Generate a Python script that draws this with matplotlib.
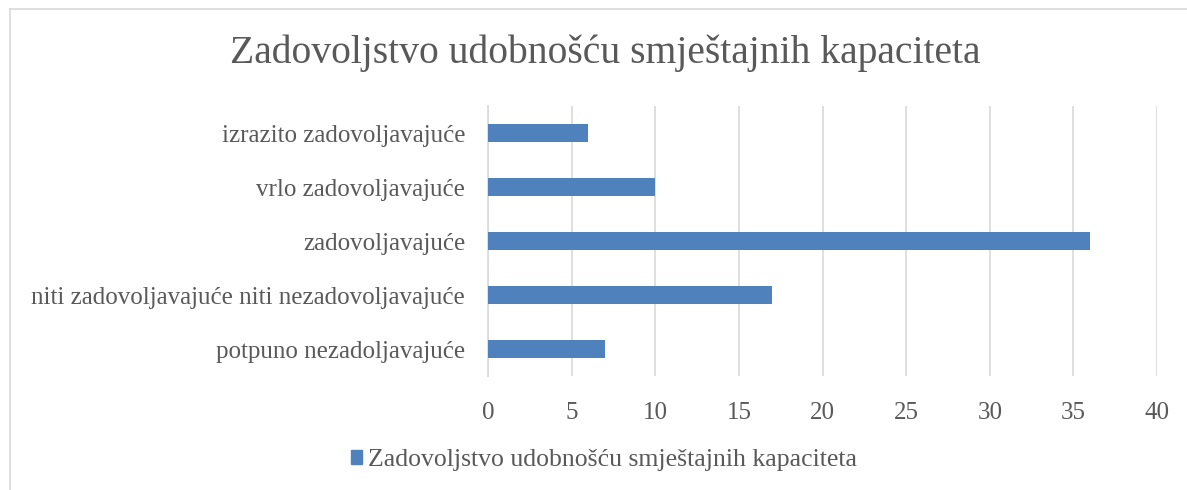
import matplotlib.pyplot as plt
from matplotlib.patches import Patch
from matplotlib.lines import Line2D

categories = ['potpuno nezadoljavajuće',
              'niti zadovoljavajuće niti nezadovoljavajuće',
              'zadovoljavajuće',
              'vrlo zadovoljavajuće',
              'izrazito zadovoljavajuće']
values = [7, 17, 36, 10, 6]
series_name = 'Zadovoljstvo udobnošću smještajnih kapaciteta'
title = 'Zadovoljstvo udobnošću smještajnih kapaciteta'

bar_color = '#4f81bd'
text_color = '#595959'
grid_color = '#d9d9d9'

plt.rcParams['font.family'] = ['Liberation Serif', 'DejaVu Serif']

W, H = 1187, 490
fig = plt.figure(figsize=(W / 100, H / 100), dpi=100)

# chart frame (only top and left edges visible in the crop)
fig.add_artist(Line2D([10 / W, 10 / W], [0, 1 - 9 / H], color='#d9d9d9', lw=1.2))
fig.add_artist(Line2D([10 / W, 1], [1 - 9 / H, 1 - 9 / H], color='#d9d9d9', lw=1.2))

left, right = 488 / W, 1157 / W
top, bottom = 1 - 106 / H, 1 - 376 / H
ax = fig.add_axes([left, bottom, right - left, top - bottom])

y = range(len(categories))
ax.barh(y, values, height=0.35, color=bar_color, zorder=3)
ax.set_ylim(-0.5, len(categories) - 0.5)
ax.set_xlim(0, 40)
ax.set_xticks(range(0, 41, 5))
ax.set_yticks(list(y))
ax.set_yticklabels(categories)

ax.grid(axis='x', color=grid_color, lw=1.2, zorder=0)
for s in ['top', 'right', 'bottom']:
    ax.spines[s].set_visible(False)
ax.spines['left'].set_color(grid_color)
ax.spines['left'].set_linewidth(1.2)
ax.tick_params(axis='both', length=0, labelsize=18, colors=text_color)
ax.tick_params(axis='x', pad=19)
ax.tick_params(axis='y', pad=16.5)

fig.text(605 / W, 1 - 53 / H, title, ha='center', va='center',
         fontsize=28.5, color=text_color)

handle = Patch(color=bar_color)
fig.legend([handle], [series_name], loc='center', bbox_to_anchor=(604 / W, 1 - 460 / H),
           frameon=False, fontsize=18.5, labelcolor=text_color,
           handlelength=0.45, handleheight=0.5, handletextpad=0.25)

fig.savefig('out.png', dpi=100, facecolor='white')
